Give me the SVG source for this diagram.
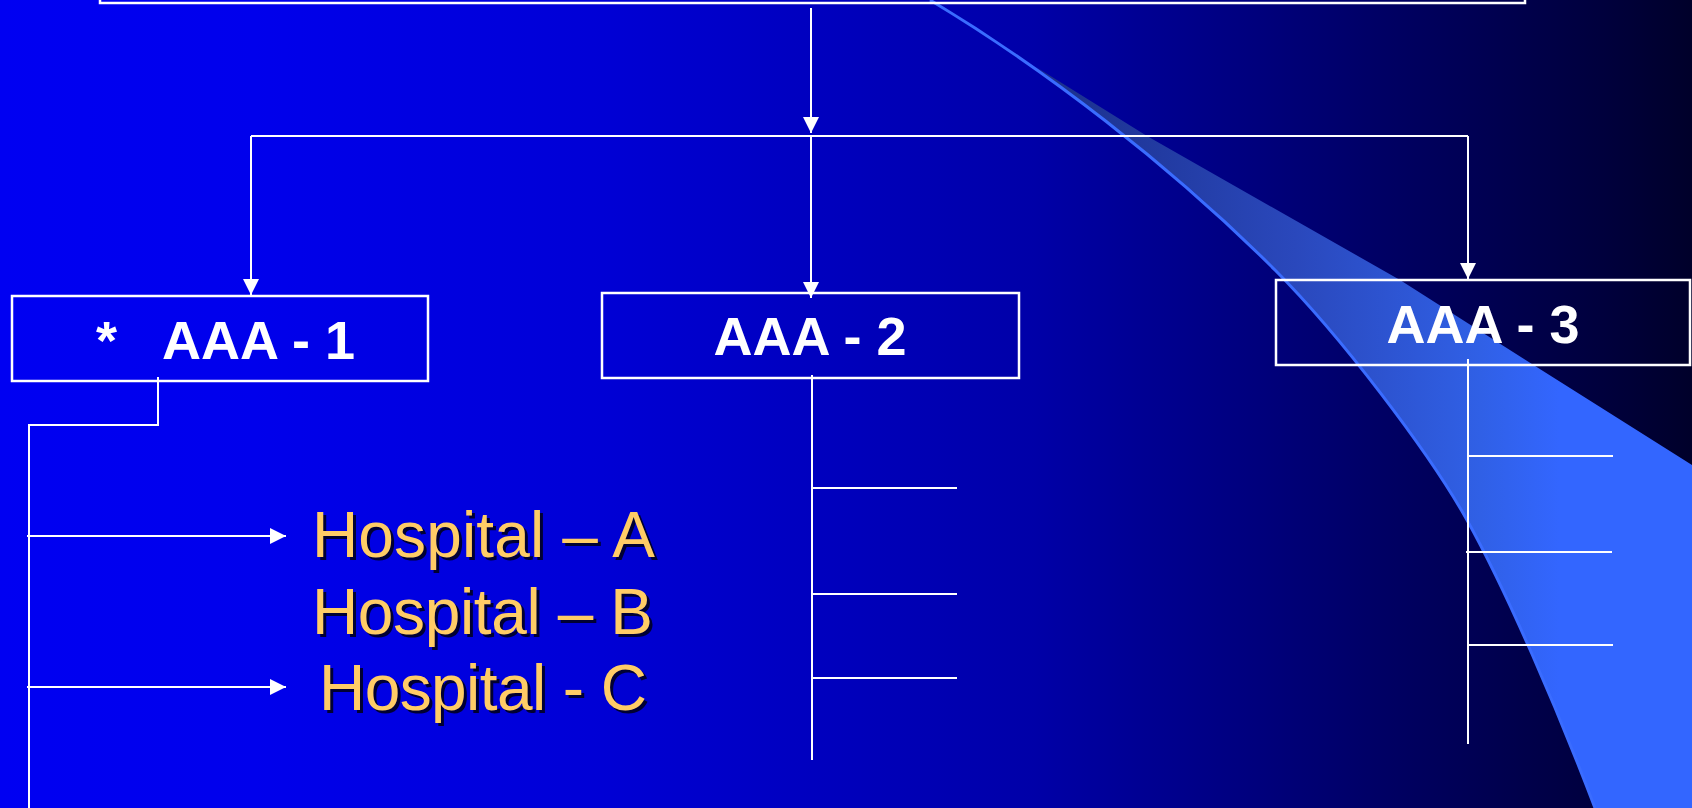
<svg xmlns="http://www.w3.org/2000/svg" width="1692" height="808" viewBox="0 0 1692 808">
  <defs>
    <linearGradient id="bg" x1="0" y1="0" x2="1692" y2="0" gradientUnits="userSpaceOnUse">
      <stop offset="0" stop-color="#0000F2"/>
      <stop offset="0.15" stop-color="#0000EC"/>
      <stop offset="0.35" stop-color="#0000D6"/>
      <stop offset="0.61" stop-color="#0000A8"/>
      <stop offset="0.83" stop-color="#000060"/>
      <stop offset="0.95" stop-color="#00003C"/>
      <stop offset="1" stop-color="#00002A"/>
    </linearGradient>
    <linearGradient id="band" x1="1030" y1="0" x2="1560" y2="0" gradientUnits="userSpaceOnUse">
      <stop offset="0" stop-color="#1A2E88"/>
      <stop offset="0.5" stop-color="#2A48BC"/>
      <stop offset="0.85" stop-color="#3060E6"/>
      <stop offset="1" stop-color="#3366FF"/>
    </linearGradient>
    <marker id="arrow" viewBox="0 0 16 16" refX="16" refY="8" markerWidth="16" markerHeight="16" markerUnits="userSpaceOnUse" orient="auto">
      <path d="M0,0 L16,8 L0,16 Z" fill="#FFFFFF"/>
    </marker>
  </defs>
  <style>
    .box { fill: none; stroke: #FFFFFF; stroke-width: 2.5; }
    .conn { fill: none; stroke: #FFFFFF; stroke-width: 2; }
    .lbl { font-family: "Liberation Sans", Arial, sans-serif; font-weight: bold; font-size: 54px; fill: #FFFFFF; }
    .hosp { font-family: "Liberation Sans", Arial, sans-serif; font-size: 64px; fill: #FFCC66; }
    .shadow { font-family: "Liberation Sans", Arial, sans-serif; font-size: 64px; fill: #000033; }
  </style>

  <rect x="0" y="0" width="1692" height="808" fill="url(#bg)"/>

  <!-- decorative swoosh -->
  <g id="swoosh">
    <path d="M1036,67 L1147,136 L1400,280 L1502,345 L1692,465 L1692,808 L1595,808 C1557,708 1507,592 1467,520 C1429,452 1340,335 1275,270 C1240,235 1205,200 1170,172 C1130,140 1080,100 1036,67 Z" fill="url(#band)"/>
    <path d="M930,0 C1045,69 1170,165 1275,270 C1340,335 1429,452 1467,520 C1507,592 1557,708 1595,808" fill="none" stroke="#3A6CFF" stroke-width="3"/>
  </g>

  <g id="top-box">
    <rect class="box" x="100" y="-20" width="1425" height="23"/>
  </g>

  <g id="connectors">
    <line class="conn" x1="811" y1="8" x2="811" y2="133" marker-end="url(#arrow)"/>
    <line class="conn" x1="251" y1="136" x2="1468" y2="136"/>
    <line class="conn" x1="251" y1="136" x2="251" y2="295" marker-end="url(#arrow)"/>
    <line class="conn" x1="811" y1="136" x2="811" y2="298" marker-end="url(#arrow)"/>
    <line class="conn" x1="1468" y1="136" x2="1468" y2="279" marker-end="url(#arrow)"/>

    <!-- AAA-1 branch -->
    <polyline class="conn" points="158,377 158,425 29,425 29,810"/>
    <line class="conn" x1="27" y1="536" x2="286" y2="536" marker-end="url(#arrow)"/>
    <line class="conn" x1="27" y1="687" x2="286" y2="687" marker-end="url(#arrow)"/>

    <!-- AAA-2 branch -->
    <line class="conn" x1="812" y1="375" x2="812" y2="760"/>
    <line class="conn" x1="812" y1="488" x2="957" y2="488"/>
    <line class="conn" x1="812" y1="594" x2="957" y2="594"/>
    <line class="conn" x1="812" y1="678" x2="957" y2="678"/>

    <!-- AAA-3 branch -->
    <line class="conn" x1="1468" y1="359" x2="1468" y2="744"/>
    <line class="conn" x1="1468" y1="456" x2="1613" y2="456"/>
    <line class="conn" x1="1466" y1="552" x2="1612" y2="552"/>
    <line class="conn" x1="1468" y1="645" x2="1613" y2="645"/>
  </g>

  <g id="aaa1">
    <rect class="box" x="12" y="296" width="416" height="85"/>
    <text class="lbl"><tspan x="96" y="359">*</tspan><tspan x="162" y="359">AAA - 1</tspan></text>
  </g>

  <g id="aaa2">
    <rect class="box" x="602" y="293" width="417" height="85"/>
    <text class="lbl" x="810" y="355" text-anchor="middle">AAA - 2</text>
  </g>

  <g id="aaa3">
    <rect class="box" x="1276" y="280" width="414" height="85"/>
    <text class="lbl" x="1483" y="343" text-anchor="middle">AAA - 3</text>
  </g>

  <g id="hospital-a">
    <text class="shadow" x="315" y="560" textLength="343">Hospital – A</text>
    <text class="hosp" x="312" y="557" textLength="343">Hospital – A</text>
  </g>
  <g id="hospital-b">
    <text class="shadow" x="315" y="637" textLength="341">Hospital – B</text>
    <text class="hosp" x="312" y="634" textLength="341">Hospital – B</text>
  </g>
  <g id="hospital-c">
    <text class="shadow" x="322" y="713" textLength="328">Hospital - C</text>
    <text class="hosp" x="319" y="710" textLength="328">Hospital - C</text>
  </g>
</svg>
